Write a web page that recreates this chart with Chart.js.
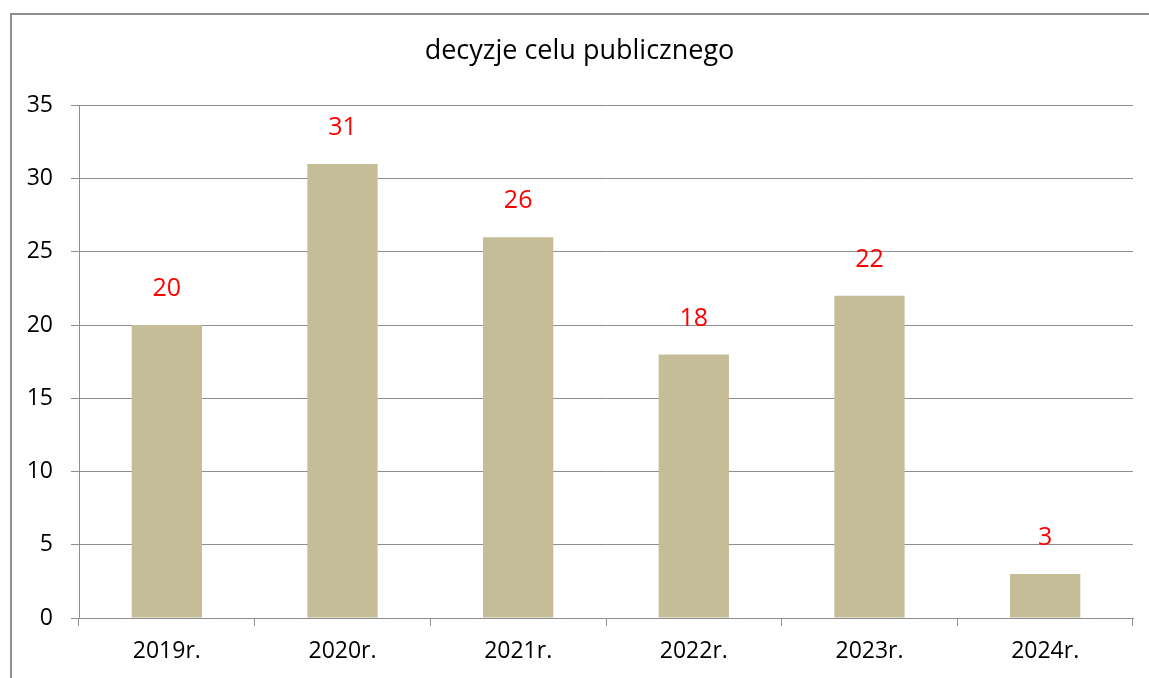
<!DOCTYPE html>
<html>
<head>
<meta charset="utf-8">
<script src="https://cdn.jsdelivr.net/npm/chart.js@4.4.1/dist/chart.umd.min.js"></script>
<style>
    html, body { margin: 0; padding: 0; background: #fff; overflow: hidden; }
    #wrap { position: relative; width: 1149px; height: 678px; }
    #frame { position: absolute; left: 10px; top: 13px; width: 1200px; height: 700px; border: 2px solid #8e8e8e; box-sizing: border-box; }
    #chart { position: absolute; left: 0; top: 0; }
</style>
</head>
<body>
<div id="wrap">
    <div id="frame"></div>
    <canvas id="chart" width="1149" height="678"></canvas>
</div>
<script>
// chart data
const years = ['2019r.', '2020r.', '2021r.', '2022r.', '2023r.', '2024r.'];
const decisions = [20, 31, 26, 18, 22, 3];
const yTicks = [0, 5, 10, 15, 20, 25, 30, 35];

const fontName = '"Open Sans", Lato, sans-serif';
const gridColor = '#8e8e8e';

// red value labels above each bar
const valueLabels = {
    id: 'valueLabels',
    afterDatasetsDraw(chart) {
        const ctx = chart.ctx;
        const meta = chart.getDatasetMeta(0);
        ctx.save();
        ctx.fillStyle = '#ff0000';
        ctx.font = '25px ' + fontName;
        ctx.textAlign = 'center';
        ctx.textBaseline = 'middle';
        meta.data.forEach(function (bar, i) {
            ctx.fillText(String(decisions[i]), bar.x, bar.y - 36);
        });
        ctx.restore();
    }
};

const ctx = document.getElementById('chart').getContext('2d');
const chart = new Chart(ctx, {
    type: 'bar',
    data: {
        labels: years,
        datasets: [{
            label: 'decyzje celu publicznego',
            data: decisions,
            backgroundColor: '#c4bd97',
            borderWidth: 0,
            barPercentage: 0.4,
            categoryPercentage: 1.0
        }]
    },
    options: {
        responsive: false,
        animation: false,
        layout: { padding: { left: 26, right: 16, top: 0, bottom: 0 } },
        plugins: {
            legend: { display: false },
            tooltip: { enabled: false },
            title: {
                display: true,
                text: 'decyzje celu publicznego',
                color: '#000',
                font: { family: fontName, size: 27, weight: 'normal' },
                padding: { top: 35, bottom: 38 }
            }
        },
        scales: {
            x: {
                offset: true,
                grid: {
                    offset: true,
                    drawOnChartArea: false,
                    drawTicks: true,
                    tickLength: 8,
                    color: gridColor
                },
                border: { color: gridColor, width: 1 },
                ticks: {
                    color: '#000',
                    padding: 12,
                    font: { family: fontName, size: 23 }
                },
                afterFit(scale) { scale.height = 60; }
            },
            y: {
                min: 0,
                max: 35,
                afterBuildTicks(scale) {
                    scale.ticks = yTicks.map(v => ({ value: v }));
                },
                grid: {
                    color: gridColor,
                    tickLength: 8
                },
                border: { color: gridColor, width: 1 },
                ticks: {
                    color: '#000',
                    padding: 18,
                    font: { family: fontName, size: 23 }
                },
                afterFit(scale) { scale.width = 53; }
            }
        }
    },
    plugins: [valueLabels]
});
</script>
</body>
</html>
